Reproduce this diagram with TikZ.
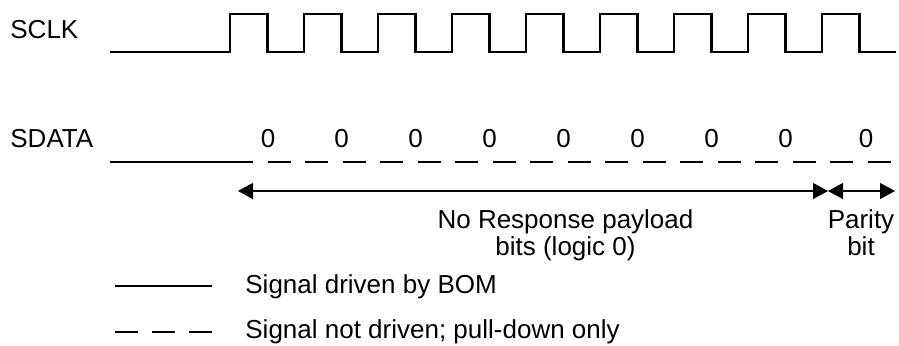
\documentclass[tikz,border=0pt]{standalone}
\usepackage{fontspec}
\setmainfont{Liberation Sans}
\usetikzlibrary{arrows.meta}
\tikzset{
  sig/.style={line width=1.3pt, line join=miter},
  undriven/.style={line width=1.3pt, dash pattern=on 11.5pt off 7.25pt},
  legdash/.style={line width=1.3pt, dash pattern=on 11.5pt off 7pt},
  lbl/.style={inner sep=0pt, font=\fontsize{13}{13.5}\selectfont},
  span/.style={line width=0.6pt, {Triangle[length=7.5pt,width=8pt]}-{Triangle[length=7.5pt,width=8pt]}}
}
\begin{document}
\begin{tikzpicture}[x=0.5pt,y=-0.5pt]
\useasboundingbox (0,0) rectangle (899,345);
% labels
\node[lbl, anchor=base west] (sclk) at (10,38) {SCLK};
\node[lbl, anchor=base west] (sdata) at (10,147) {SDATA};
% clock
\coordinate (clkstart) at (110,52);
\draw[sig] (clkstart) -- (230,52)
  foreach \k in {0,...,8} { -- ({230+74*\k},14) -- ({267.5+74*\k},14) -- ({267.5+74*\k},52) -- ({304+74*\k},52) };
% data
\coordinate (dstart) at (110,162);
\coordinate (dmid) at (230,162);
\coordinate (dend) at (893,162);
\draw[sig] (dstart) -- (dmid);
\draw[undriven] (dmid) -- (dend);
% zeros
\foreach \x [count=\i] in {268,341.5,415.5,489.5,563.5,637.5,711.5,785.5,866}
  \node[lbl, anchor=base] (z\i) at (\x,147) {0};
% span arrows
\coordinate (pa) at (238,191);
\coordinate (pb) at (828,191);
\coordinate (pc) at (895,191);
\draw[span] (pa) -- (pb);
\draw[span] (pb) -- (pc);
\node[lbl, anchor=north, align=center] (payload) at (565.5,209.5) {No Response payload\\bits (logic 0)};
\node[lbl, anchor=north, align=center] (parity) at (861,209.5) {Parity\\bit};
% legend
\coordinate (l1a) at (115,286);
\coordinate (l1b) at (212,286);
\coordinate (l2a) at (115,332);
\coordinate (l2b) at (212,332);
\draw[sig] (l1a) -- (l1b);
\draw[legdash] (l2a) -- (l2b);
\node[lbl, anchor=base west] (leg1) at (245,293) {Signal driven by BOM};
\node[lbl, anchor=base west] (leg2) at (245,338) {Signal not driven; pull-down only};
\end{tikzpicture}
\end{document}
